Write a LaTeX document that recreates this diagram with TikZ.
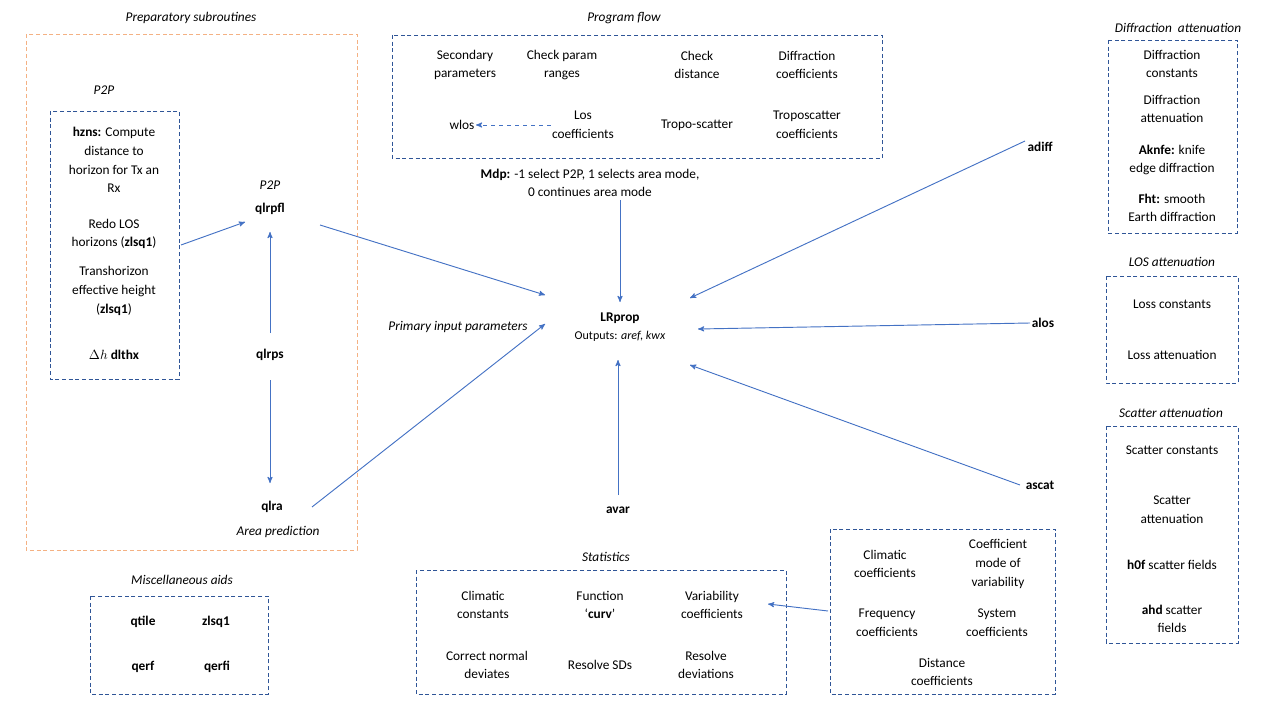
\documentclass[tikz,border=0pt]{standalone}
\usepackage{fontspec}
\setmainfont{Carlito}
\usetikzlibrary{arrows,positioning}
\definecolor{boxblue}{HTML}{2F5597}
\definecolor{arrblue}{HTML}{4472C4}
\definecolor{boxorange}{HTML}{F4B183}
\tikzset{>=stealth',auto}
\begin{document}
\begin{tikzpicture}[x=0.75pt,y=-0.75pt,
    txt/.style={align=center,font=\fontsize{10}{14}\selectfont,inner sep=1pt},
    ttl/.style={txt,font=\fontsize{10}{14}\selectfont\itshape},
    grp/.style={draw=boxblue,densely dashed,line width=0.6pt},
    arr/.style={->,draw=arrblue,line width=0.7pt}]
\useasboundingbox (0,0) rectangle (1280,720);

% program flow
\draw[grp] (392,35) rectangle (882,158);
\node[ttl] (tflow) at (624,18) {Program flow};
\node[txt] (sec) at (465,65) {Secondary\\parameters};
\node[txt] (chk) at (562,65) {Check param\\ranges};
\node[txt] (dist) at (697,65) {Check\\distance};
\node[txt] (dcoef) at (807,65) {Diffraction\\coefficients};
\node[txt] (wlos) at (462,125) {wlos};
\node[txt] (los) at (583,125) {Los\\coefficients};
\node[txt] (tropo) at (697,125) {Tropo-scatter};
\node[txt] (tcoef) at (807,125) {Troposcatter\\coefficients};
\draw[arr,dashed] (los) -- (wlos);
\node[txt] (mdp) at (590,183) {\textbf{Mdp:} -1 select P2P, 1 selects area mode,\\0 continues area mode};

% central node
\node[txt] (lr) at (620,327) {\textbf{LRprop}\\{\fontsize{9}{12}\selectfont Outputs: \textit{aref, kwx}}};
\node[ttl] (prim) at (458,327) {Primary input parameters};

% preparatory subroutines
\draw[draw=boxorange,densely dashed,line width=0.6pt] (26,34) rectangle (357,550);
\node[ttl] (tprep) at (191,18) {Preparatory subroutines};
\node[ttl] (p2pa) at (104,90) {P2P};
\draw[grp] (50,111) rectangle (179,379);
\node[txt] (hzns) at (114,160) {\textbf{hzns:} Compute\\distance to\\horizon for Tx an\\Rx};
\node[txt] (redo) at (114,234) {Redo LOS\\horizons (\textbf{zlsq1})};
\node[txt] (trans) at (114,291) {Transhorizon\\effective height\\(\textbf{zlsq1})};
\node[txt] (dlt) at (114,355) {$\Delta h$ \textbf{dlthx}};
\coordinate (boxr) at (181,245);
\node[ttl] (p2pb) at (270,185) {P2P};
\node[txt] (qlrpfl) at (270,209) {\textbf{qlrpfl}};
\node[txt] (qlrps) at (270,355) {\textbf{qlrps}};
\node[txt] (qlra) at (272,507) {\textbf{qlra}};
\node[ttl] (area) at (278,532) {Area prediction};
\draw[arr] (boxr) -- (245,222);
\draw[arr] (270,333) -- (270,232);
\draw[arr] (270,380) -- (270,483);

% attenuation labels
\node[txt] (adiff) at (1040,147) {\textbf{adiff}};
\node[txt] (alos) at (1043,323) {\textbf{alos}};
\node[txt] (ascat) at (1040,485) {\textbf{ascat}};
\node[txt] (avar) at (618,510) {\textbf{avar}};

% arrows into LRprop
\draw[arr] (620,200) -- (620,302);
\draw[arr] (320,225) -- (545,295);
\draw[arr] (312,507) -- (545,324);
\draw[arr] (618,495) -- (618,360);
\draw[arr] (1025,141) -- (690,298);
\draw[arr] (1030,323) -- (698,329);
\draw[arr] (1020,485) -- (690,365);

% misc aids
\node[ttl] (tmisc) at (182,580) {Miscellaneous aids};
\draw[grp] (90,596) rectangle (268,694);
\node[txt] (qtile) at (143,622) {\textbf{qtile}};
\node[txt] (zlsq) at (216,622) {\textbf{zlsq1}};
\node[txt] (qerf) at (143,667) {\textbf{qerf}};
\node[txt] (qerfi) at (217,667) {\textbf{qerfi}};

% statistics
\node[ttl] (tstat) at (606,557) {Statistics};
\draw[grp] (416,570) rectangle (786,694);
\node[txt] (cc) at (483,605) {Climatic\\constants};
\node[txt] (curv) at (600,605) {Function\\`\textbf{curv}'};
\node[txt] (vc) at (712,605) {Variability\\coefficients};
\node[txt] (cnd) at (487,665) {Correct normal\\deviates};
\node[txt] (rsd) at (600,665) {Resolve SDs};
\node[txt] (rdev) at (706,665) {Resolve\\deviations};

\draw[grp] (830,529) rectangle (1055,694);
\node[txt] (clc) at (885,564) {Climatic\\coefficients};
\node[txt] (cmv) at (998,564) {Coefficient\\mode of\\variability};
\node[txt] (frc) at (887,623) {Frequency\\coefficients};
\node[txt] (syc) at (997,623) {System\\coefficients};
\node[txt] (dsc) at (942,672) {Distance\\coefficients};
\draw[arr] (828,611) -- (768,604);

% right column
\node[ttl] (tdif) at (1178,28) {Diffraction\ \ attenuation};
\draw[grp] (1108,40) rectangle (1237,233);
\node[txt] (dfc) at (1172,64) {Diffraction\\constants};
\node[txt] (dfa) at (1172,109) {Diffraction\\attenuation};
\node[txt] (akn) at (1172,160) {\textbf{Aknfe:} knife\\edge diffraction};
\node[txt] (fht) at (1172,208) {\textbf{Fht:} smooth\\Earth diffraction};
\node[ttl] (tlos) at (1172,262) {LOS attenuation};
\draw[grp] (1106,276) rectangle (1238,383);
\node[txt] (lsc) at (1172,304) {Loss constants};
\node[txt] (lsa) at (1172,355) {Loss attenuation};
\node[ttl] (tsca) at (1171,413) {Scatter attenuation};
\draw[grp] (1106,426) rectangle (1238,643);
\node[txt] (scc) at (1172,450) {Scatter constants};
\node[txt] (sca) at (1172,510) {Scatter\\attenuation};
\node[txt] (hof) at (1172,565) {\textbf{h0f} scatter fields};
\node[txt] (ahd) at (1172,619) {\textbf{ahd} scatter\\fields};
\end{tikzpicture}
\end{document}
